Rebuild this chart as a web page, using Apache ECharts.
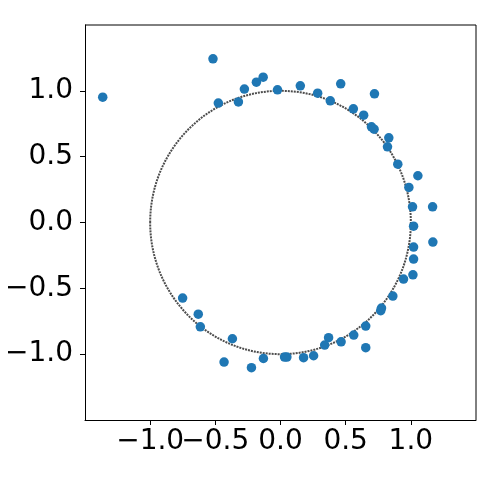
<!DOCTYPE html>
<html>
<head>
<meta charset="utf-8">
<script src="https://cdn.jsdelivr.net/npm/echarts@6/dist/echarts.min.js"></script>
<style>
  html, body { margin: 0; padding: 0; background: #fff; }
  #chart { width: 500px; height: 500px; }
</style>
</head>
<body>
<div id="chart"></div>
<script>
// scatter points
const xs = [-1.364, -0.518, -0.477, -0.323, -0.277, -0.185, -0.133, -0.023, 0.152, 0.285,
  0.382, 0.462, 0.559, 0.638, 0.698, 0.718, 0.721, 0.831, 0.821, 0.900,
  1.054, 0.985, 1.013, 1.167, 1.021, 1.169, 1.021, 1.021, 1.016, 0.944,
  0.862, 0.775, 0.769, 0.654, 0.654, 0.562, 0.465, 0.369, 0.339, 0.254,
  0.177, 0.049, 0.031, -0.131, -0.223, -0.433, -0.369, -0.615, -0.631, -0.751]
const ys = [0.952, 1.243, 0.907, 0.916, 1.013, 1.066, 1.104, 1.008, 1.038, 0.982,
  0.924, 1.053, 0.863, 0.815, 0.727, 0.709, 0.977, 0.643, 0.575, 0.443,
  0.355, 0.266, 0.119, 0.119, -0.028, -0.149, -0.187, -0.278, -0.397, -0.430,
  -0.559, -0.650, -0.670, -0.787, -0.951, -0.855, -0.906, -0.875, -0.931, -1.012,
  -1.027, -1.022, -1.022, -1.033, -1.103, -1.060, -0.883, -0.792, -0.696, -0.574]
// unit circle: center and radius in data units
const circleCenter = [0, 0]
const circleRadius = 1
const ticks = [-1.0, -0.5, 0.0, 0.5, 1.0]

const fmt = v => v.toFixed(1).replace('-', '\u2212')
const font = 'DejaVu Sans'

const chart = echarts.init(document.getElementById('chart'))

const axisCommon = {
  type: 'value',
  min: -1.5,
  max: 1.5,
  interval: 0.5,
  splitLine: { show: false },
  axisLine: { onZero: false, lineStyle: { color: '#000', width: 1 } },
  axisTick: { length: 5, lineStyle: { color: '#000', width: 1 } },
  axisLabel: {
    color: '#000',
    fontFamily: font,
    fontSize: 28,
    showMinLabel: false,
    showMaxLabel: false,
    formatter: v => (ticks.some(t => Math.abs(t - v) < 1e-9) ? fmt(v) : '')
  }
}

chart.setOption({
  animation: false,
  grid: { left: 85, right: 24, top: 25, bottom: 80, containLabel: false },
  xAxis: Object.assign({}, axisCommon, {
    position: 'bottom',
    axisLabel: Object.assign({}, axisCommon.axisLabel, { margin: 8 })
  }),
  yAxis: Object.assign({}, axisCommon, {
    position: 'left',
    axisLabel: Object.assign({}, axisCommon.axisLabel, { margin: 12 })
  }),
  series: [
    {
      type: 'custom',
      silent: true,
      data: [[circleCenter[0], circleCenter[1], circleRadius]],
      renderItem(params, api) {
        const c = api.coord([api.value(0), api.value(1)])
        const ex = api.coord([api.value(0) + api.value(2), api.value(1)])
        const ey = api.coord([api.value(0), api.value(1) + api.value(2)])
        return {
          type: 'ellipse',
          shape: { cx: c[0], cy: c[1], rx: Math.abs(ex[0] - c[0]), ry: Math.abs(c[1] - ey[1]) },
          style: { fill: null, stroke: '#4d4d4d', lineWidth: 2, lineDash: [2, 1] }
        }
      },
      z: 1
    },
    {
      type: 'scatter',
      data: xs.map((x, i) => [x, ys[i]]),
      symbolSize: 9.5,
      itemStyle: { color: '#1f77b4', opacity: 1 },
      z: 2
    },
    {
      // right/top spines
      type: 'custom',
      silent: true,
      data: [[-1.5, -1.5, 1.5, 1.5]],
      renderItem(params, api) {
        const a = api.coord([api.value(0), api.value(1)])
        const b = api.coord([api.value(2), api.value(3)])
        return {
          type: 'polyline',
          shape: { points: [[a[0], b[1]], [b[0], b[1]], [b[0], a[1]]] },
          style: { fill: null, stroke: '#000', lineWidth: 1 }
        }
      },
      z: 3
    }
  ]
})
</script>
</body>
</html>
